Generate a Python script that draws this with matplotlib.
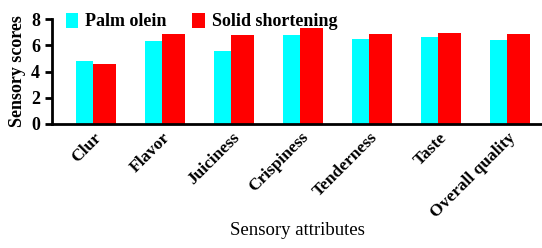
import numpy as np
import matplotlib.pyplot as plt

# Data
attributes = ["Clur", "Flavor", "Juiciness", "Crispiness", "Tenderness", "Taste", "Overall quality"]
palm_olein = [4.8, 6.3, 5.6, 6.75, 6.5, 6.6, 6.4]
solid_shortening = [4.55, 6.85, 6.75, 7.35, 6.85, 6.95, 6.85]

plt.rcParams['font.family'] = ['Liberation Serif', 'DejaVu Serif']
plt.rcParams['font.weight'] = 'bold'

fig = plt.figure(figsize=(5.42, 2.48), dpi=100)
ax = fig.add_axes([0.096, 0.5, 0.904, 0.423])

x = np.arange(len(attributes))
ax.bar(x, palm_olein, width=-0.25, align='edge', color='#00ffff', label='Palm olein')
ax.bar(x, solid_shortening, width=0.33, align='edge', color='#ff0000', label='Solid shortening')

ax.set_xlim(-0.6, 6.5)
ax.set_ylim(0, 8)
ax.set_yticks([0, 2, 4, 6, 8])
ax.set_xticks(x)
ax.set_xticklabels(attributes, rotation=45, ha='right', rotation_mode='anchor')

for s in ['top', 'right']:
    ax.spines[s].set_visible(False)
for s in ['left', 'bottom']:
    ax.spines[s].set_linewidth(2)

ax.tick_params(axis='y', width=2, length=5, labelsize=13)
ax.tick_params(axis='x', length=0, labelsize=12.5, pad=4)

ax.set_ylabel('Sensory scores', fontsize=13, fontweight='bold', labelpad=4)
ax.set_xlabel('Sensory attributes', fontsize=13.5, fontweight='normal', labelpad=1)

ax.legend(loc='upper left', bbox_to_anchor=(0.013, 1.13), ncol=2, frameon=False,
          fontsize=13, handlelength=0.7, handleheight=0.9, columnspacing=1.4,
          handletextpad=0.4, borderaxespad=0)

fig.savefig('out.png', dpi=100)
